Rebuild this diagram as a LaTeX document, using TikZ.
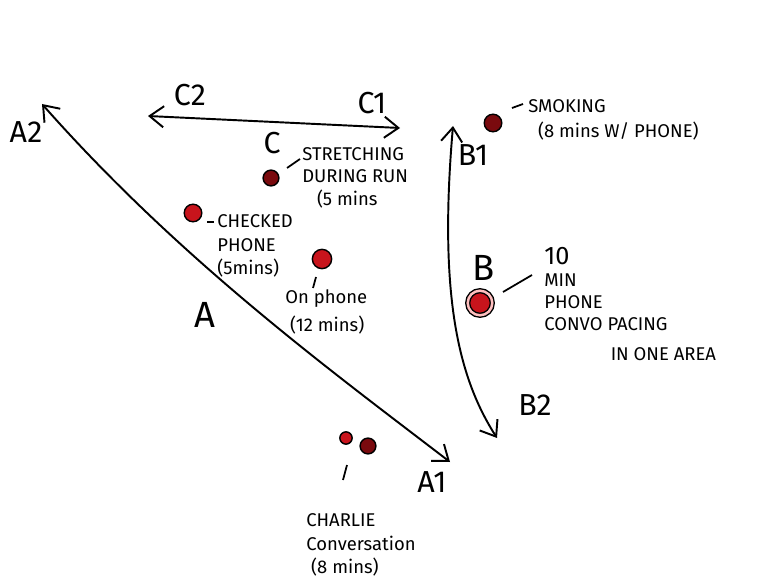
\documentclass[tikz,border=0pt]{standalone}
\usepackage{fontspec}
\setmainfont{Fira Sans}
\usepackage{tikz}
\usetikzlibrary{positioning, arrows.meta}
\definecolor{dotdark}{HTML}{7A0A0E}
\definecolor{dotred}{HTML}{C8141C}
\tikzset{
    axisarrow/.style={line width=1.1pt, {Straight Barb[length=8pt,width=12pt]}-{Straight Barb[length=8pt,width=12pt]}},
    axislabel/.style={font=\LARGE, inner sep=0pt},
    biglabel/.style={font=\huge, inner sep=0pt},
    note/.style={font=\fontsize{10.5}{12.5}\selectfont, align=left, inner sep=0pt, anchor=west},
    dot/.style={circle, draw=black, thick, inner sep=0pt, minimum size=#1},
    tick/.style={line width=1pt}
}

\begin{document}
\begin{tikzpicture}[x=0.02cm, y=-0.02cm]
    \useasboundingbox (0,0) rectangle (765,588);

    % Axis A
    \coordinate (a2) at (42,104);
    \coordinate (a1) at (450,462);
    \draw[axisarrow] (a2) .. controls (180,260) and (330,370) .. (a1);
    \node[biglabel] (labA) at (205,315) {A};
    \node[axislabel] (labA2) at (26,132) {A2};
    \node[axislabel] (labA1) at (432,482) {A1};

    % Axis C
    \coordinate (c2) at (148,116);
    \coordinate (c1) at (400,128);
    \draw[axisarrow] (c2) -- (c1);
    \node[axislabel] (labC2) at (190,95) {C2};
    \node[axislabel] (labC1) at (372,103) {C1};
    \node[axislabel] (labC) at (272,143) {C};

    % Axis B
    \coordinate (b1) at (453,126);
    \coordinate (b2) at (497,438);
    \draw[axisarrow] (b1) .. controls (438,300) and (460,380) .. (b2);
    \node[axislabel] (labB1) at (473,155) {B1};
    \node[biglabel] (labB) at (484,268) {B};
    \node[axislabel] (labB2) at (535,405) {B2};

    % Smoking
    \node[dot=10pt, fill=dotdark] (smoke) at (493,123) {};
    \coordinate (smokeT1) at (512,108);
    \coordinate (smokeT2) at (523,104);
    \draw[tick] (smokeT1) -- (smokeT2);
    \node[note] (smokeTxt) at (528,120) {SMOKING\\[2pt]\ \ (8 mins W/ PHONE)};

    % Stretching
    \node[dot=9pt, fill=dotdark] (stretch) at (271,178) {};
    \coordinate (stretchT1) at (287,168);
    \coordinate (stretchT2) at (300,159);
    \draw[tick] (stretchT1) -- (stretchT2);
    \node[note] (stretchTxt) at (302,178) {STRETCHING\\DURING RUN\\[1pt]\ \ \ (5 mins};

    % Checked phone
    \node[dot=10pt, fill=dotred] (checked) at (193,213) {};
    \coordinate (checkedT1) at (207,222);
    \coordinate (checkedT2) at (214,222);
    \draw[tick] (checkedT1) -- (checkedT2);
    \node[note] (checkedTxt) at (217,246) {CHECKED\\[1pt]PHONE\\[1pt](5mins)};

    % On phone
    \node[dot=11pt, fill=dotred] (onphone) at (322,259) {};
    \coordinate (onphoneT1) at (316,277);
    \coordinate (onphoneT2) at (313,288);
    \draw[tick] (onphoneT1) -- (onphoneT2);
    \node[note] (onphoneTxt) at (285,312) {On phone\\[3pt]\ (12 mins)};

    % Phone convo
    \node[dot=14pt, fill=dotred, double=red!25, double distance=1.4pt] (convo) at (480,303) {};
    \coordinate (convoT1) at (503,292);
    \coordinate (convoT2) at (532,275);
    \draw[tick] (convoT1) -- (convoT2);
    \node[note] (convoTxt) at (544,304) {{\Large 10}\\MIN\\PHONE\\CONVO PACING\\[5pt]\hspace{3.6em}IN ONE AREA};

    % Charlie
    \node[dot=7pt, fill=dotred] (charlie1) at (346,438) {};
    \node[dot=9pt, fill=dotdark] (charlie2) at (368,446) {};
    \coordinate (charlieT1) at (347,465);
    \coordinate (charlieT2) at (343,480);
    \draw[tick] (charlieT1) -- (charlieT2);
    \node[note] (charlieTxt) at (306,545) {CHARLIE\\[1pt]Conversation\\[1pt]\ (8 mins)};
\end{tikzpicture}
\end{document}
